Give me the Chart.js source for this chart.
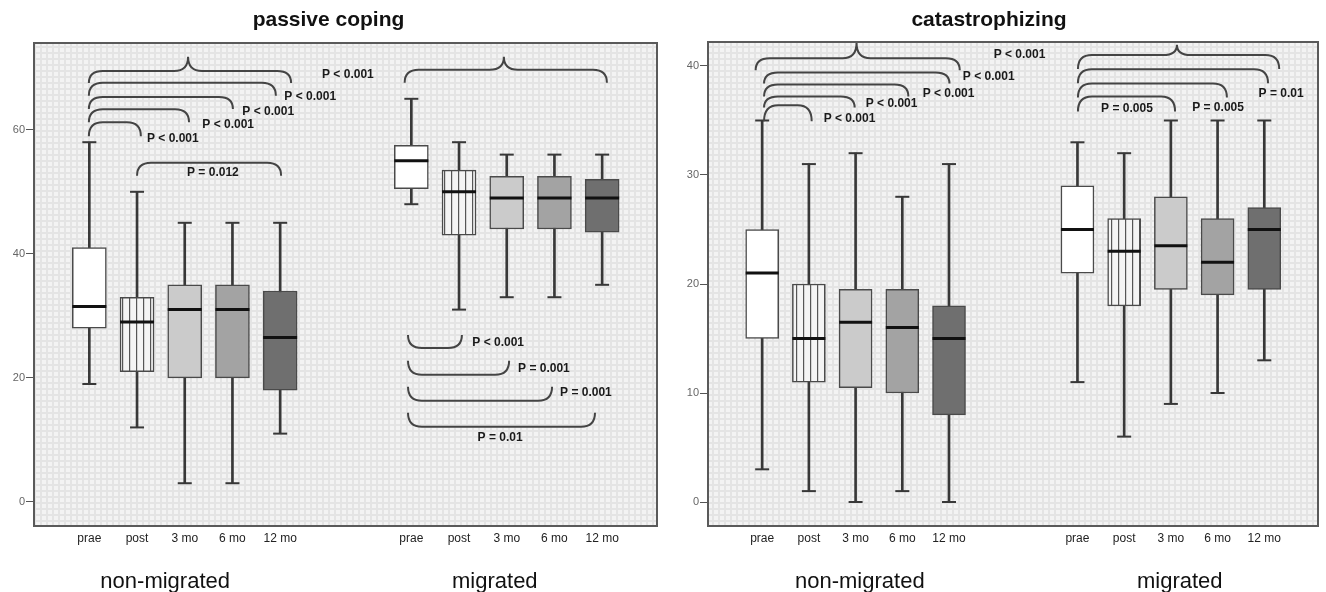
<!DOCTYPE html>
<html lang="en">
<head>
<meta charset="UTF-8">
<title>passive coping / catastrophizing</title>
<script src="https://cdn.jsdelivr.net/npm/chart.js@4.4.0/dist/chart.umd.min.js"></script>
<style>
  body { margin: 0; background: #fff; }
  #left { position: absolute; left: 0; top: 0; }
  #right { position: absolute; left: 660px; top: 0; }
</style>
</head>
<body>
<canvas id="left" width="660" height="592"></canvas>
<canvas id="right" width="666" height="592"></canvas>
<script>
/* Categories. */
const timepoints = ['prae', 'post', '3 mo', '6 mo', '12 mo']
const groupNames = ['non-migrated', 'migrated']

/* passive coping, box plot values per time point. */
const pcNonMin = [19, 12, 3, 3, 11]
const pcNonQ1 = [28, 21, 20, 20, 18]
const pcNonMed = [31.5, 29, 31, 31, 26.5]
const pcNonQ3 = [41, 33, 35, 35, 34]
const pcNonMax = [58, 50, 45, 45, 45]
const pcMigMin = [48, 31, 33, 33, 35]
const pcMigQ1 = [50.5, 43, 44, 44, 43.5]
const pcMigMed = [55, 50, 49, 49, 49]
const pcMigQ3 = [57.5, 53.5, 52.5, 52.5, 52]
const pcMigMax = [65, 58, 56, 56, 56]

/* catastrophizing. */
const caNonMin = [3, 1, 0, 1, 0]
const caNonQ1 = [15, 11, 10.5, 10, 8]
const caNonMed = [21, 15, 16.5, 16, 15]
const caNonQ3 = [25, 20, 19.5, 19.5, 18]
const caNonMax = [35, 31, 32, 28, 31]
const caMigMin = [11, 6, 9, 10, 13]
const caMigQ1 = [21, 18, 19.5, 19, 19.5]
const caMigMed = [25, 23, 23.5, 22, 25]
const caMigQ3 = [29, 26, 28, 26, 27]
const caMigMax = [33, 32, 35, 35, 35]

/* Tick labels. */
const pcTicks = [0, 20, 40, 60]
const caTicks = [0, 10, 20, 30, 40]

/* Box positions on the x scale (two groups of five). */
const slotX = [1, 2, 3, 4, 5, 7.75, 8.75, 9.75, 10.75, 11.75]
const FONT = "'Liberation Sans', Arial, sans-serif"

/* Significance brackets (x in slot units, y in data units, depth in px). */
const pcBrackets = [
  { kind: 'curly', x1: 0.99, x2: 5.23, y: 69.5, depth: 12, px: 3.07, py: 71.8, label: 'P < 0.001', lx: 6.42, ly: 68.9 },
  { kind: 'round', x1: 0.99, x2: 4.91, y: 67.6, depth: 13, label: 'P < 0.001', lx: 5.63, ly: 65.3 },
  { kind: 'round', x1: 0.99, x2: 4.01, y: 65.3, depth: 12, label: 'P < 0.001', lx: 4.75, ly: 62.9 },
  { kind: 'round', x1: 0.99, x2: 3.09, y: 63.3, depth: 13, label: 'P < 0.001', lx: 3.91, ly: 60.8 },
  { kind: 'round', x1: 0.99, x2: 2.08, y: 61.2, depth: 14, label: 'P < 0.001', lx: 2.75, ly: 58.5 },
  { kind: 'round', x1: 2.0, x2: 5.02, y: 54.7, depth: 13, label: 'P = 0.012', lx: 3.59, ly: 53.1 },
  { kind: 'curly', x1: 7.61, x2: 11.85, y: 69.7, depth: 13, px: 9.69, py: 71.8 },
  { kind: 'cup', x1: 7.68, x2: 8.81, y: 24.8, depth: 13, label: 'P < 0.001', lx: 9.57, ly: 25.6 },
  { kind: 'cup', x1: 7.68, x2: 9.8, y: 20.5, depth: 14, label: 'P = 0.001', lx: 10.53, ly: 21.5 },
  { kind: 'cup', x1: 7.68, x2: 10.7, y: 16.3, depth: 14, label: 'P = 0.001', lx: 11.41, ly: 17.6 },
  { kind: 'cup', x1: 7.68, x2: 11.6, y: 12.1, depth: 14, label: 'P = 0.01', lx: 9.61, ly: 10.3 }
]
const caBrackets = [
  { kind: 'curly', x1: 0.86, x2: 5.23, y: 40.7, depth: 12, px: 3.02, py: 42.1, label: 'P < 0.001', lx: 6.51, ly: 41.0 },
  { kind: 'round', x1: 1.04, x2: 5.01, y: 39.4, depth: 11, label: 'P < 0.001', lx: 5.85, ly: 39.0 },
  { kind: 'round', x1: 1.04, x2: 4.13, y: 38.3, depth: 12, label: 'P < 0.001', lx: 4.99, ly: 37.5 },
  { kind: 'round', x1: 1.04, x2: 2.98, y: 37.2, depth: 11, label: 'P < 0.001', lx: 3.77, ly: 36.5 },
  { kind: 'round', x1: 1.04, x2: 2.06, y: 36.4, depth: 16, label: 'P < 0.001', lx: 2.87, ly: 35.2 },
  { kind: 'curly', x1: 7.76, x2: 12.07, y: 41.0, depth: 14, px: 9.88, py: 41.95 },
  { kind: 'round', x1: 7.76, x2: 11.83, y: 39.7, depth: 14, label: 'P = 0.01', lx: 12.11, ly: 37.5 },
  { kind: 'round', x1: 7.76, x2: 10.95, y: 38.4, depth: 14, label: 'P = 0.005', lx: 10.76, ly: 36.2 },
  { kind: 'round', x1: 7.76, x2: 9.84, y: 37.2, depth: 15, label: 'P = 0.005', lx: 8.81, ly: 36.1 }
]

/* Patterns. */
function makePattern(w, h, paint) {
  const c = document.createElement('canvas')
  c.width = w; c.height = h
  paint(c.getContext('2d'))
  return c.getContext('2d').createPattern(c, 'repeat')
}
const bgPattern = makePattern(6, 6, g => {
  g.fillStyle = '#e4e4e4'; g.fillRect(0, 0, 6, 6)
  g.fillStyle = '#f3f3f3'; g.fillRect(0, 0, 4, 4)
})
const stripePattern = makePattern(7, 4, g => {
  g.fillStyle = '#f4f4f4'; g.fillRect(0, 0, 7, 4)
  g.fillStyle = '#555'; g.fillRect(3, 0, 1.2, 4)
})
const boxFills = ['#ffffff', stripePattern, '#cbcbcb', '#a3a3a3', '#6f6f6f']

/* Draw brackets and their P labels. */
function drawBrackets(chart, list) {
  const ctx = chart.ctx
  const xs = v => chart.scales.x.getPixelForValue(v)
  const ys = v => chart.scales.y.getPixelForValue(v)
  ctx.save()
  ctx.strokeStyle = '#444'
  ctx.lineWidth = 2
  list.forEach(b => {
    const x1 = xs(b.x1), x2 = xs(b.x2), y = ys(b.y)
    const r = Math.min(14, (x2 - x1) / 3)
    ctx.beginPath()
    if (b.kind === 'cup') {
      ctx.moveTo(x1, y - b.depth)
      ctx.quadraticCurveTo(x1, y, x1 + r, y)
      ctx.lineTo(x2 - r, y)
      ctx.quadraticCurveTo(x2, y, x2, y - b.depth)
    } else {
      ctx.moveTo(x1, y + b.depth)
      ctx.quadraticCurveTo(x1, y, x1 + r, y)
      if (b.kind === 'curly') {
        const pxl = xs(b.px), pyl = ys(b.py)
        ctx.lineTo(pxl - r, y)
        ctx.quadraticCurveTo(pxl, y, pxl, pyl)
        ctx.quadraticCurveTo(pxl, y, pxl + r, y)
      }
      ctx.lineTo(x2 - r, y)
      ctx.quadraticCurveTo(x2, y, x2, y + b.depth)
    }
    ctx.stroke()
    if (b.label) {
      ctx.fillStyle = '#1a1a1a'
      ctx.font = 'bold 12px ' + FONT
      ctx.textAlign = 'center'
      ctx.textBaseline = 'middle'
      ctx.fillText(b.label, xs(b.lx), ys(b.ly))
    }
  })
  ctx.restore()
}

/* No extra side padding for the bottom label axes. */
function noSidePad(a, h) {
  a.height = h
  a.paddingLeft = 0
  a.paddingRight = 0
}

function makeChart(id, cfg) {
  const min = cfg.min, q1 = cfg.q1, med = cfg.med, q3 = cfg.q3, max = cfg.max
  const pts = arr => slotX.map((x, i) => ({ x: x, y: arr[i] }))
  const xLabels = timepoints.concat(timepoints)

  return new Chart(document.getElementById(id), {
    type: 'bar',
    data: {
      datasets: [
        {
          label: 'whisker', type: 'bar', grouped: false, order: 3,
          data: slotX.map((x, i) => ({ x: x, y: [min[i], max[i]] })),
          backgroundColor: '#383838', barThickness: 2
        },
        {
          label: 'box', type: 'bar', grouped: false, order: 2,
          data: slotX.map((x, i) => ({ x: x, y: [q1[i], q3[i]] })),
          backgroundColor: boxFills.concat(boxFills), borderColor: '#4a4a4a',
          borderWidth: 1.5, borderSkipped: false, barThickness: cfg.boxW
        },
        {
          label: 'caps', type: 'line', showLine: false, order: 1,
          data: pts(min).concat(pts(max)),
          pointStyle: 'line', pointRadius: 7, pointBorderWidth: 2, pointBorderColor: '#383838'
        },
        {
          label: 'median', type: 'line', showLine: false, order: 0,
          data: pts(med),
          pointStyle: 'line', pointRadius: cfg.boxW / 2, pointBorderWidth: 3, pointBorderColor: '#111'
        }
      ]
    },
    options: {
      responsive: false,
      animation: false,
      events: [],
      layout: { autoPadding: false, padding: { left: 0, right: cfg.padRight, top: 0, bottom: 0 } },
      plugins: {
        legend: { display: false },
        tooltip: { enabled: false },
        title: {
          display: true, text: cfg.title, color: '#111',
          font: { family: FONT, size: 21, weight: 'bold' },
          padding: { top: 8, bottom: cfg.titleGap }
        }
      },
      scales: {
        x: {
          type: 'linear', min: -0.16, max: 12.9, offset: false, weight: 0,
          grid: { display: false, drawTicks: false }, border: { display: false },
          afterBuildTicks: a => { a.ticks = slotX.map(v => ({ value: v })) },
          afterFit: a => noSidePad(a, 24),
          ticks: {
            autoSkip: false, maxRotation: 0, padding: 5, color: '#222',
            font: { family: FONT, size: 12 },
            callback: (v, i) => xLabels[i]
          }
        },
        xg: {
          type: 'linear', position: 'bottom', min: -0.16, max: 12.9, offset: false, weight: 1,
          grid: { display: false, drawTicks: false }, border: { display: false },
          afterBuildTicks: a => { a.ticks = cfg.groupX.map(v => ({ value: v })) },
          afterFit: a => noSidePad(a, 42),
          ticks: {
            autoSkip: false, maxRotation: 0, padding: 19, color: '#111',
            font: { family: FONT, size: 22 },
            callback: (v, i) => groupNames[i]
          }
        },
        y: {
          min: cfg.yMin, max: cfg.yMax,
          afterBuildTicks: a => { a.ticks = cfg.ticks.map(v => ({ value: v })) },
          afterFit: a => { a.width = cfg.yWidth; a.paddingTop = 0; a.paddingBottom = 0 },
          grid: { drawOnChartArea: false, drawTicks: true, tickLength: 8, color: '#555' },
          border: { display: false },
          ticks: { padding: 1, color: '#666', font: { family: FONT, size: 11 } }
        }
      }
    },
    plugins: [{
      id: 'panel',
      beforeDraw(chart) {
        const a = chart.chartArea
        chart.ctx.save()
        chart.ctx.fillStyle = bgPattern
        chart.ctx.fillRect(a.left, a.top, a.right - a.left, a.bottom - a.top)
        chart.ctx.restore()
      },
      afterDatasetsDraw(chart) {
        drawBrackets(chart, cfg.brackets)
      },
      afterDraw(chart) {
        const a = chart.chartArea
        chart.ctx.save()
        chart.ctx.strokeStyle = '#5a5a5a'
        chart.ctx.lineWidth = 2
        chart.ctx.strokeRect(a.left, a.top, a.right - a.left, a.bottom - a.top)
        chart.ctx.restore()
      }
    }]
  })
}

makeChart('left', {
  title: 'passive coping', titleGap: 9.8, padRight: 3, yWidth: 34, boxW: 34,
  yMin: -3.9, yMax: 74, ticks: pcTicks, groupX: [2.59, 9.5],
  min: pcNonMin.concat(pcMigMin), q1: pcNonQ1.concat(pcMigQ1), med: pcNonMed.concat(pcMigMed),
  q3: pcNonQ3.concat(pcMigQ3), max: pcNonMax.concat(pcMigMax),
  brackets: pcBrackets
})

makeChart('right', {
  title: 'catastrophizing', titleGap: 8.8, padRight: 8, yWidth: 48, boxW: 33,
  yMin: -2.2, yMax: 42.2, ticks: caTicks, groupX: [3.09, 9.94],
  min: caNonMin.concat(caMigMin), q1: caNonQ1.concat(caMigQ1), med: caNonMed.concat(caMigMed),
  q3: caNonQ3.concat(caMigQ3), max: caNonMax.concat(caMigMax),
  brackets: caBrackets
})
</script>
</body>
</html>
